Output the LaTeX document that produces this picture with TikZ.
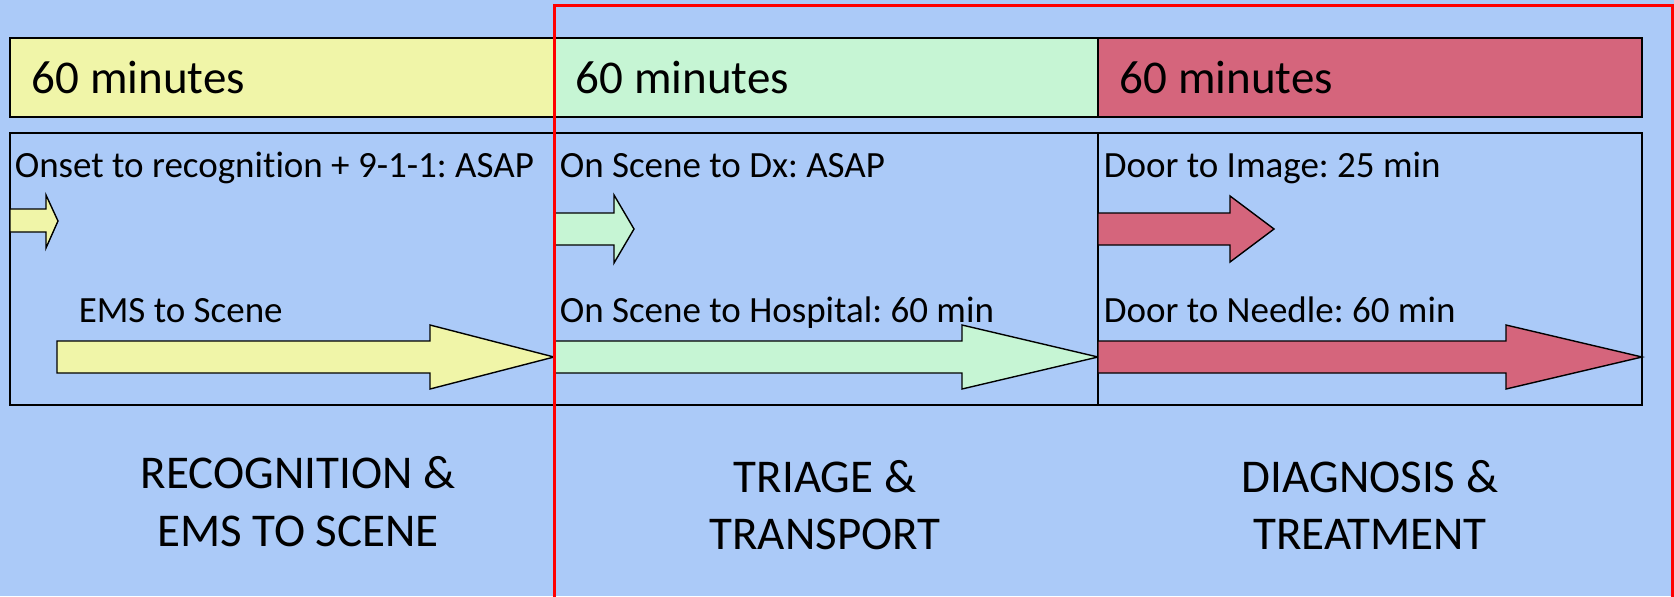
\documentclass[tikz,border=0pt]{standalone}
\usepackage{fontspec}
\setmainfont{Carlito}[Ligatures=CommonOff]
\usepackage{tikz}
\usetikzlibrary{positioning}
\usepackage{xcolor}
\definecolor{skyback}{RGB}{171,202,248}
\definecolor{recyellow}{RGB}{240,245,168}
\definecolor{triagegreen}{RGB}{198,245,212}
\definecolor{treatred}{RGB}{213,101,124}
\frenchspacing

\begin{document}
\begin{tikzpicture}[x=0.5pt,y=-0.5pt,line width=0.8pt,
  minlabel/.style={anchor=base west,inner sep=0pt,font=\fontsize{23.5}{28}\selectfont},
  steplabel/.style={anchor=base west,inner sep=0pt,font=\fontsize{18.5}{22}\selectfont},
  phaselabel/.style={anchor=base,inner sep=0pt,font=\fontsize{23.5}{29}\selectfont},
  blockarrow/.style={draw=black,line width=0.7pt}]
\useasboundingbox (0,0) rectangle (1674,596);
\fill[skyback] (0,0) rectangle (1674,596);
% time bars
\draw[fill=recyellow] (10,38) rectangle (554,117);
\draw[fill=triagegreen] (554,38) rectangle (1098,117);
\draw[fill=treatred] (1098,38) rectangle (1642,117);
\node[minlabel] (minrec) at (31,93) {60 minutes};
\node[minlabel] (mintri) at (575,93) {60 minutes};
\node[minlabel] (mintreat) at (1119,93) {60 minutes};
% step box
\draw (10,133) rectangle (1642,405);
\draw (554,133) -- (554,405);
\draw (1098,133) -- (1098,405);
% block arrows
\filldraw[blockarrow,fill=recyellow] (10,209) -- (46,209) -- (46,195) -- (58,221) -- (46,248) -- (46,232) -- (10,232) -- cycle;
\filldraw[blockarrow,fill=recyellow] (57,341) -- (430,341) -- (430,325) -- (554,357) -- (430,389) -- (430,373) -- (57,373) -- cycle;
\filldraw[blockarrow,fill=triagegreen] (554,213) -- (614,213) -- (614,195) -- (634,229) -- (614,263) -- (614,245) -- (554,245) -- cycle;
\filldraw[blockarrow,fill=triagegreen] (554,341) -- (962,341) -- (962,325) -- (1098,357) -- (962,389) -- (962,373) -- (554,373) -- cycle;
\filldraw[blockarrow,fill=treatred] (1098,213) -- (1230,213) -- (1230,196) -- (1274,229) -- (1230,262) -- (1230,245) -- (1098,245) -- cycle;
\filldraw[blockarrow,fill=treatred] (1098,341) -- (1506,341) -- (1506,325) -- (1642,357) -- (1506,389) -- (1506,373) -- (1098,373) -- cycle;
% step labels
\node[steplabel] (onset) at (14,177) {Onset to recognition + 9-1-1: ASAP};
\node[steplabel] (scenedx) at (559,177) {On Scene to Dx: ASAP};
\node[steplabel] (doorimage) at (1103,177) {Door to Image: 25 min};
\node[steplabel] (emsscene) at (78,322) {EMS to Scene};
\node[steplabel] (scenehosp) at (559,322) {On Scene to Hospital: 60 min};
\node[steplabel] (doorneedle) at (1103,322) {Door to Needle: 60 min};
% phase labels
\node[phaselabel] (recA) at (298,488) {RECOGNITION \&};
\node[phaselabel] (recB) at ([yshift=-29pt]recA.base) {EMS TO SCENE};
\node[phaselabel] (triA) at (825,492) {TRIAGE \&};
\node[phaselabel] (triB) at ([yshift=-28.5pt]triA.base) {TRANSPORT};
\node[phaselabel] (diaA) at (1370,492) {DIAGNOSIS \&};
\node[phaselabel] (diaB) at ([yshift=-28.5pt]diaA.base) {TREATMENT};
% highlight frame
\draw[red,line width=1.5pt] (554,610) -- (554,5) -- (1672,5) -- (1672,610);
\end{tikzpicture}
\end{document}
